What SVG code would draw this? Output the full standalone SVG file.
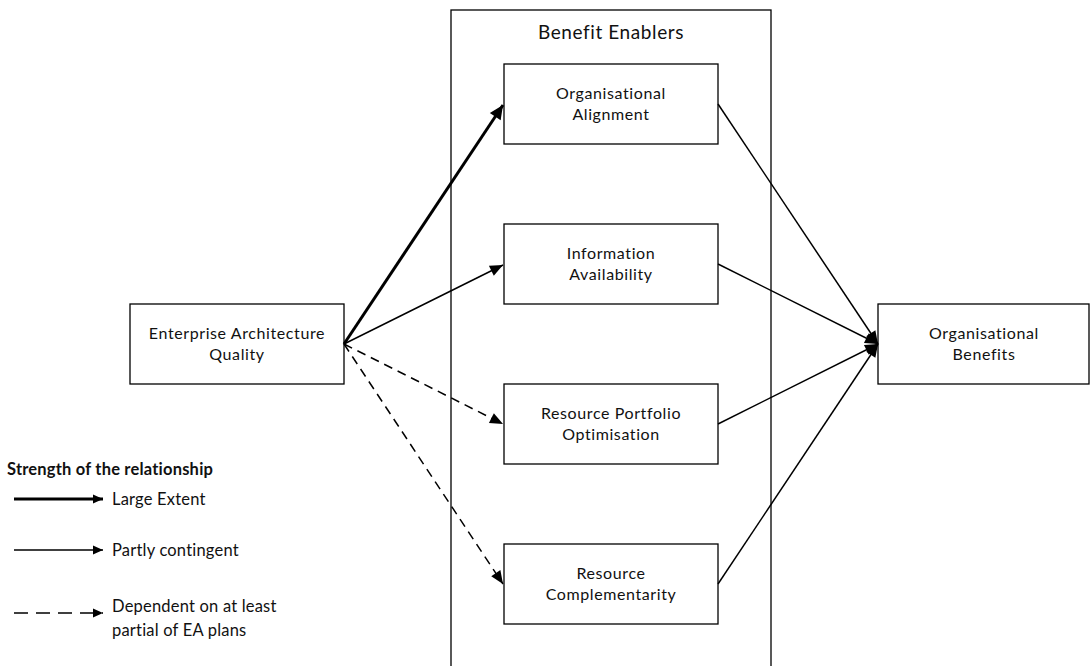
<svg xmlns="http://www.w3.org/2000/svg" width="1091" height="666" viewBox="0 0 1091 666">
  <style>
    .box { fill: #fff; stroke: #000; stroke-width: 1.3; }
    .frame { fill: none; stroke: #000; stroke-width: 1.3; }
    .lbl { font-family: Lato, "Open Sans", sans-serif; font-size: 16px; letter-spacing: 0.6px; fill: #111; text-anchor: middle; }
    .title { font-family: Lato, "Open Sans", sans-serif; font-size: 19px; letter-spacing: 0.6px; fill: #111; text-anchor: middle; }
    .leg { font-family: Lato, "Open Sans", sans-serif; font-size: 16.5px; letter-spacing: 0.2px; fill: #111; }
    .legb { font-family: Lato, "Open Sans", sans-serif; font-size: 16.5px; letter-spacing: 0.2px; font-weight: bold; fill: #111; }
    .thick { stroke: #000; stroke-width: 3; fill: none; marker-end: url(#headL); }
    .thin { stroke: #000; stroke-width: 1.5; fill: none; marker-end: url(#head); }
    .dash { stroke: #000; stroke-width: 1.5; fill: none; stroke-dasharray: 9 6; marker-end: url(#head); }
    .legdash { stroke-dasharray: 14 8; }
    .legline { marker-end: url(#headS); }
  </style>
  <defs>
    <marker id="head" markerUnits="userSpaceOnUse" markerWidth="14" markerHeight="12" refX="13" refY="5.5" orient="auto" overflow="visible">
      <path d="M0,0 L13,5.5 L0,11 z" fill="#000"/>
    </marker>
    <marker id="headL" markerUnits="userSpaceOnUse" markerWidth="16" markerHeight="14" refX="14" refY="6.5" orient="auto" overflow="visible">
      <path d="M0,0 L14,6.5 L0,13 z" fill="#000"/>
    </marker>
    <marker id="headS" markerUnits="userSpaceOnUse" markerWidth="11" markerHeight="10" refX="10" refY="4.5" orient="auto" overflow="visible">
      <path d="M0,0 L10,4.5 L0,9 z" fill="#000"/>
    </marker>
  </defs>

  <!-- container of the enablers -->
  <g id="benefit-enablers">
    <rect class="frame" x="451" y="10" width="320" height="670"/>
    <text class="title" x="611" y="39">Benefit Enablers</text>
  </g>

  <g id="ea-quality">
    <rect class="box" x="130" y="304" width="214" height="80"/>
    <text class="lbl" x="237" y="339">Enterprise Architecture</text>
    <text class="lbl" x="237" y="360">Quality</text>
  </g>

  <g id="org-alignment">
    <rect class="box" x="504" y="64" width="214" height="80"/>
    <text class="lbl" x="611" y="99">Organisational</text>
    <text class="lbl" x="611" y="120">Alignment</text>
  </g>

  <g id="info-availability">
    <rect class="box" x="504" y="224" width="214" height="80"/>
    <text class="lbl" x="611" y="259">Information</text>
    <text class="lbl" x="611" y="280">Availability</text>
  </g>

  <g id="resource-portfolio">
    <rect class="box" x="504" y="384" width="214" height="80"/>
    <text class="lbl" x="611" y="419">Resource Portfolio</text>
    <text class="lbl" x="611" y="440">Optimisation</text>
  </g>

  <g id="resource-complementarity">
    <rect class="box" x="504" y="544" width="214" height="80"/>
    <text class="lbl" x="611" y="579">Resource</text>
    <text class="lbl" x="611" y="600">Complementarity</text>
  </g>

  <g id="org-benefits">
    <rect class="box" x="878" y="304" width="211" height="80"/>
    <text class="lbl" x="984" y="339">Organisational</text>
    <text class="lbl" x="984" y="360">Benefits</text>
  </g>

  <!-- relationships -->
  <g id="connectors">
    <line class="thick" x1="344" y1="344" x2="503" y2="105"/>
    <line class="thin" x1="344" y1="344" x2="503" y2="265"/>
    <line class="dash" x1="344" y1="344" x2="503" y2="424"/>
    <line class="dash" x1="344" y1="344" x2="503" y2="584"/>
    <line class="thin" x1="718" y1="104" x2="878" y2="344"/>
    <line class="thin" x1="718" y1="264" x2="878" y2="344"/>
    <line class="thin" x1="718" y1="424" x2="878" y2="344"/>
    <line class="thin" x1="718" y1="584" x2="878" y2="344"/>
  </g>

  <!-- key -->
  <g id="legend">
    <text class="legb" x="7" y="475">Strength of the relationship</text>
    <line class="thick legline" x1="14" y1="499" x2="103" y2="499"/>
    <text class="leg" x="112" y="505">Large Extent</text>
    <line class="thin legline" x1="14" y1="550" x2="103" y2="550"/>
    <text class="leg" x="112" y="556">Partly contingent</text>
    <line class="dash legdash legline" x1="14" y1="613" x2="103" y2="613"/>
    <text class="leg" x="112" y="612">Dependent on at least</text>
    <text class="leg" x="112" y="636">partial of EA plans</text>
  </g>
</svg>
